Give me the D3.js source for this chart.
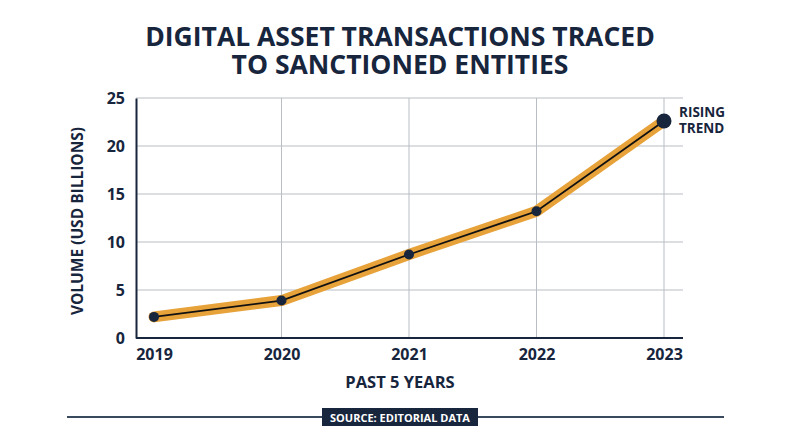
<!DOCTYPE html>
<html><head><meta charset="utf-8">
<script src="https://cdn.jsdelivr.net/npm/d3@7"></script>
<style>body{margin:0;background:#fff}svg{display:block}text{font-family:"Open Sans",sans-serif;font-weight:700;fill:#17253d}</style>
</head><body><svg id="c" width="800" height="447"></svg>
<script>
const years = ["2019","2020","2021","2022","2023"];
const volumes = [2.2, 3.9, 8.7, 13.2, 22.6];
const yTicks = [0,5,10,15,20,25];
const titleLines = ["DIGITAL ASSET TRANSACTIONS TRACED","TO SANCTIONED ENTITIES"];
const yLabel = "VOLUME (USD BILLIONS)";
const xLabel = "PAST 5 YEARS";
const endLabel = ["RISING","TREND"];
const sourceText = "SOURCE: EDITORIAL DATA";

const navy = "#17253d", orange = "#e7a23a", grid = "#b9bec4";
const svg = d3.select("#c");
const L = 136, R = 683, T = 98, B = 338;
const x = d3.scalePoint().domain(years).range([154, 664]);
const y = d3.scaleLinear().domain([0,25]).range([B, T]);

// title
svg.append("text").attr("x",400).attr("text-anchor","middle").attr("font-size",26.5)
  .selectAll("tspan").data(titleLines).join("tspan").attr("x",400)
  .attr("y",(d,i)=>46+i*28).text(d=>d);

// gridlines
svg.append("g").selectAll("line").data(yTicks.slice(1)).join("line")
  .attr("x1",L).attr("x2",R).attr("y1",d=>y(d)).attr("y2",d=>y(d))
  .attr("stroke",grid).attr("stroke-width",1);
svg.append("g").selectAll("line").data(years.slice(1)).join("line")
  .attr("x1",d=>x(d)).attr("x2",d=>x(d)).attr("y1",T).attr("y2",B)
  .attr("stroke",grid).attr("stroke-width",1);

// axes
const ya = svg.append("g").attr("transform",`translate(${L},0)`)
  .call(d3.axisLeft(y).tickValues(yTicks).tickSize(0).tickPadding(11));
ya.select(".domain").attr("stroke",navy).attr("stroke-width",2);
ya.selectAll("text").attr("font-size",16).attr("font-family","Open Sans").attr("font-weight",700).attr("fill",navy);
const xa = svg.append("g").attr("transform",`translate(0,${B})`)
  .call(d3.axisBottom(x).tickSize(0).tickPadding(11));
xa.select(".domain").attr("d",`M${L},0H${R}`).attr("stroke",navy).attr("stroke-width",2);
xa.selectAll("text").attr("font-size",16).attr("font-family","Open Sans").attr("font-weight",700).attr("fill",navy);

// axis titles
svg.append("text").attr("transform","translate(83,221) rotate(-90)").attr("text-anchor","middle")
  .attr("font-size",15.5).text(yLabel);
svg.append("text").attr("x",400).attr("y",388).attr("text-anchor","middle").attr("font-size",16.5).text(xLabel);

// line
const data = years.map((d,i)=>({year:d, v:volumes[i]}));
const line = d3.line().x(d=>x(d.year)).y(d=>y(d.v));
svg.append("path").datum(data).attr("d",line).attr("fill","none")
  .attr("stroke",orange).attr("stroke-width",11).attr("stroke-linejoin","round").attr("stroke-linecap","round");
svg.append("path").datum(data).attr("d",line).attr("fill","none")
  .attr("stroke","#111").attr("stroke-width",1.8);
svg.append("g").selectAll("circle").data(data).join("circle")
  .attr("cx",d=>x(d.year)).attr("cy",d=>y(d.v)).attr("r",(d,i)=>i===data.length-1?7.5:5)
  .attr("fill",navy);

// end label
const last = data[data.length-1];
svg.append("text").attr("font-size",13.5)
  .selectAll("tspan").data(endLabel).join("tspan")
  .attr("x",x(last.year)+15).attr("y",(d,i)=>y(last.v)-4+i*16).text(d=>d);

// source
svg.append("line").attr("x1",67).attr("x2",724).attr("y1",417).attr("y2",417).attr("stroke","#3a4a5e").attr("stroke-width",2);
svg.append("rect").attr("x",322).attr("y",408).attr("width",156).attr("height",18).attr("fill",navy);
svg.append("text").attr("x",400).attr("y",421.5).attr("text-anchor","middle").attr("font-size",11)
  .style("fill","#fff").text(sourceText);
</script></body></html>
